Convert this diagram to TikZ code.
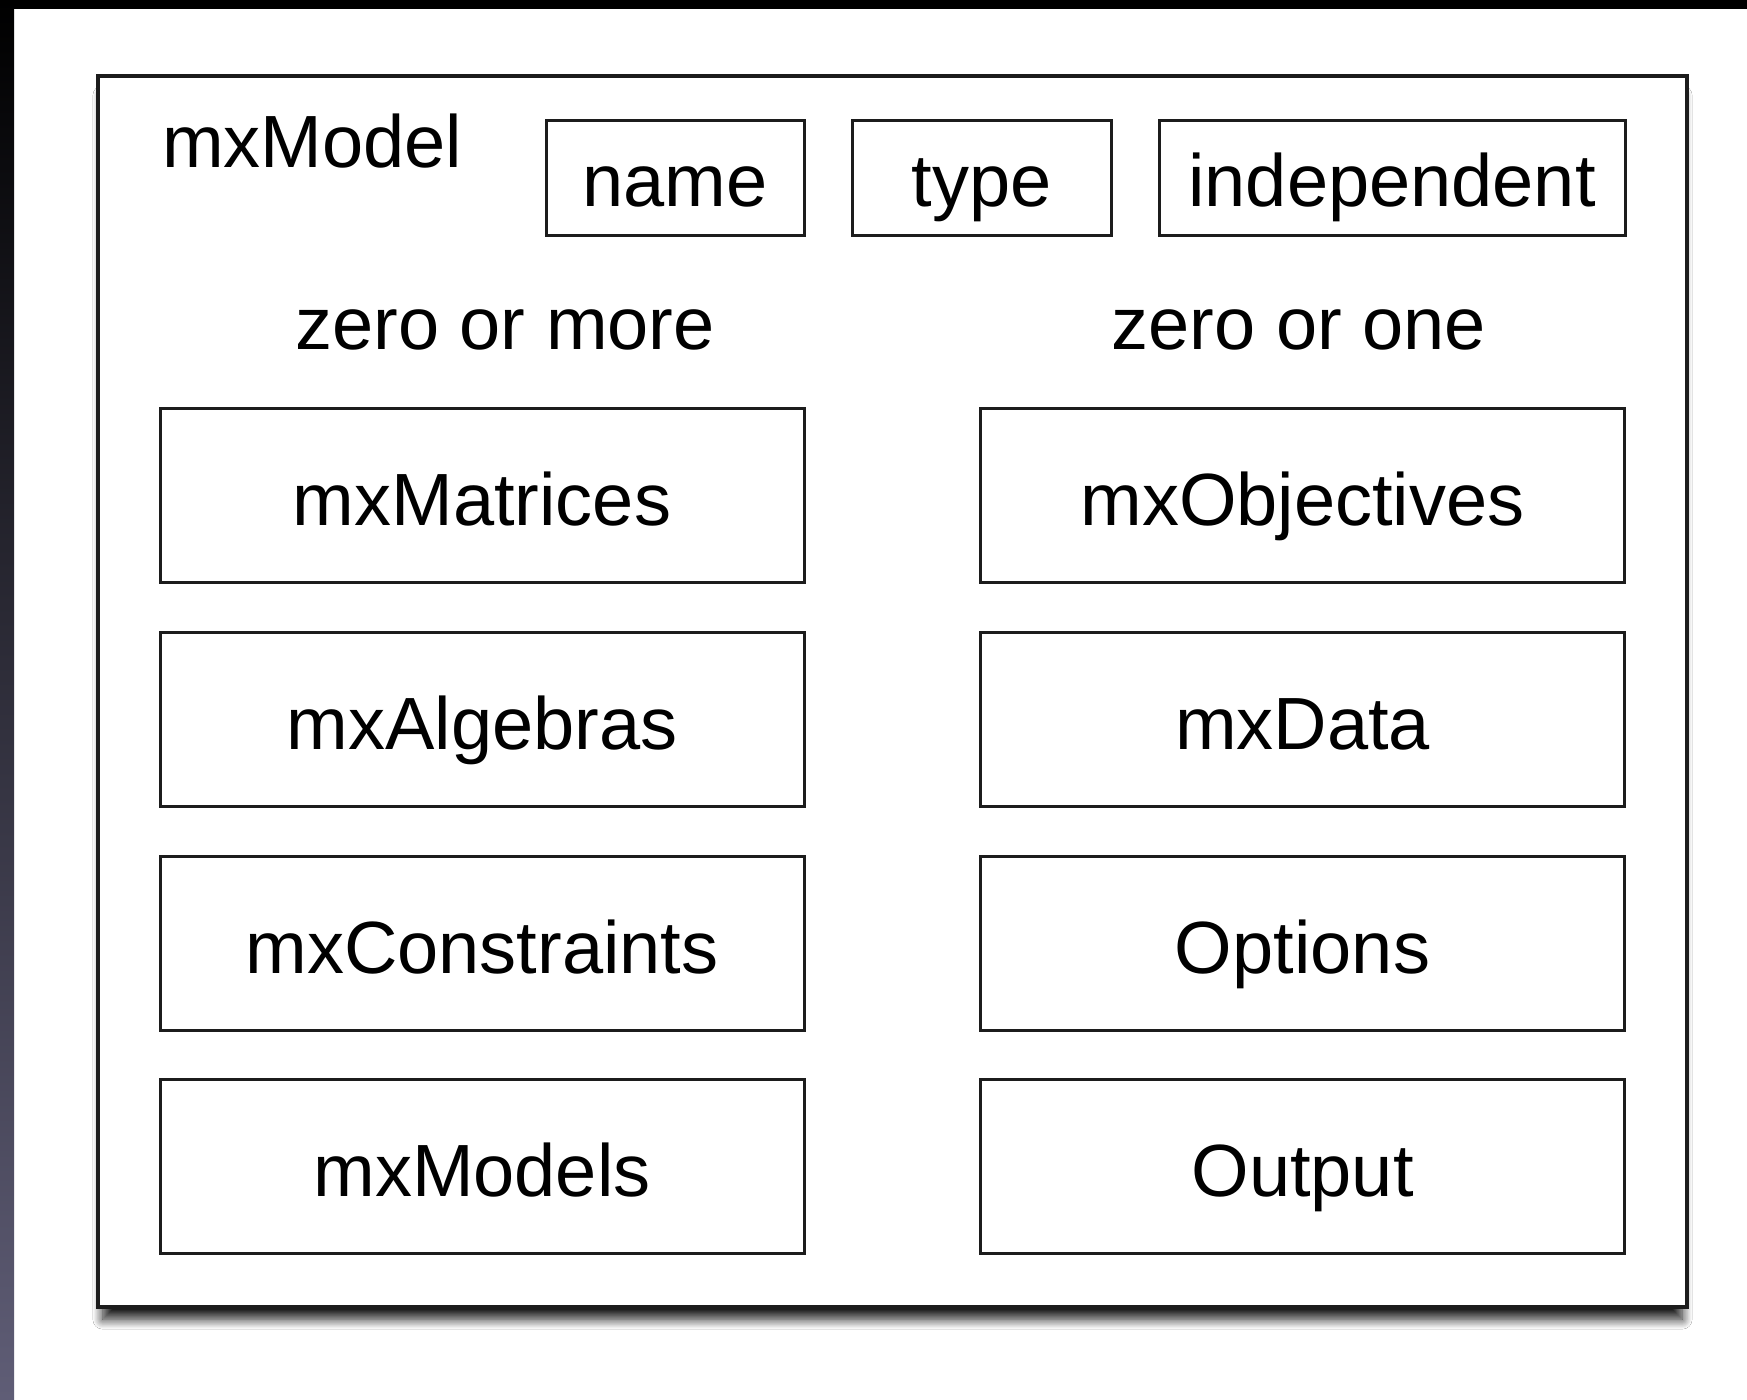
\documentclass[tikz,border=0pt]{standalone}
\usepackage{fontspec}
\setmainfont{Liberation Sans}
\usetikzlibrary{shadows.blur}
\definecolor{linec}{RGB}{28,28,28}
\definecolor{bandlow}{RGB}{95,93,118}
\definecolor{bandmid}{RGB}{28,28,58}
\begin{document}
\begin{tikzpicture}[x=0.5pt,y=-0.5pt,
  every node/.style={font=\fontsize{37}{44}\selectfont, inner sep=0pt, outer sep=0pt},
  frame/.style={draw=linec, line width=2pt, fill=white,
    blur shadow={shadow xshift=0pt, shadow yshift=-8pt, shadow scale=0.994,
      shadow blur radius=5pt, shadow blur steps=12, shadow opacity=90}},
  attrbox/.style={draw=linec, line width=1.5pt, minimum height=57.5pt, text height=29pt, text depth=0pt},
  itembox/.style={draw=linec, line width=1.5pt, minimum width=322pt, minimum height=87pt, text height=30pt, text depth=0pt},
  heading/.style={anchor=base}
]
\useasboundingbox (0,0) rectangle (1747,1399);
% page background with dark edges
\fill[white] (0,0) rectangle (1747,1399);
\fill[black] (0,0) rectangle (1747,9);
\shade[top color=black, middle color=bandmid, bottom color=bandlow] (0,0) rectangle (14,1399);

% the model container
\node[frame, minimum width=794.5pt, minimum height=615.5pt] (model) at (892.5,691.5) {};
\node[anchor=base west] (title) at (162,167) {mxModel};

% attributes
\node[attrbox, minimum width=129pt] (name) at (675,177.5) {name};
\node[attrbox, minimum width=129.5pt] (type) at (981.5,177.5) {type};
\node[attrbox, minimum width=233pt] (indep) at (1392,177.5) {independent};

% column headings
\node[heading] (many) at (505,349) {zero or more};
\node[heading] (single) at (1299,349) {zero or one};

% zero or more
\node[itembox] (matrices) at (482,495) {mxMatrices};
\node[itembox] (algebras) at (482,719) {mxAlgebras};
\node[itembox] (constraints) at (482,943) {mxConstraints};
\node[itembox] (models) at (482,1166.5) {mxModels};

% zero or one
\node[itembox] (objectives) at (1302.5,495) {mxObjectives};
\node[itembox] (data) at (1302.5,719) {mxData};
\node[itembox] (options) at (1302.5,943) {Options};
\node[itembox] (output) at (1302.5,1166.5) {Output};
\end{tikzpicture}
\end{document}
